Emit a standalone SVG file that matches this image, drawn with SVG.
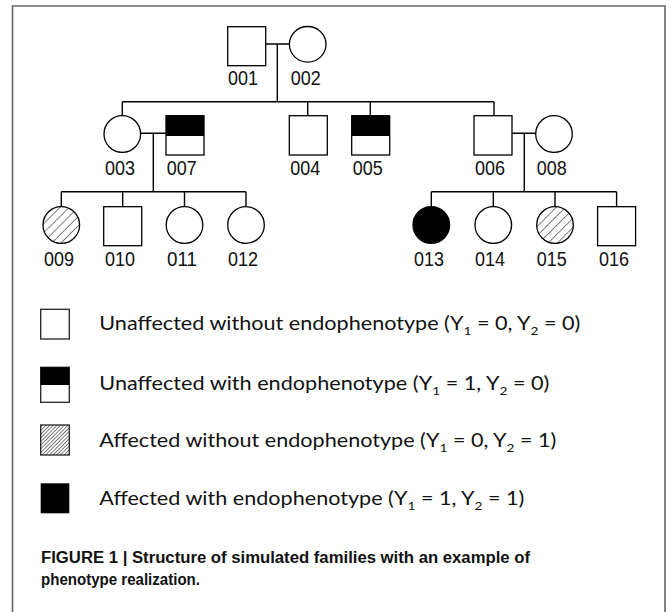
<svg xmlns="http://www.w3.org/2000/svg" width="671" height="612" viewBox="0 0 671 612">
<style>
.ln{stroke:#000;stroke-width:1.4;fill:none}
.sh{stroke:#000;stroke-width:1.3;fill:#fff}
.lab{font-family:"Liberation Sans",Arial,sans-serif;font-size:20px;fill:#111}
.leg{font-family:Lato,"Open Sans",sans-serif;font-size:19px;fill:#111}
.sub{font-size:12px}
.cap{font-family:"Liberation Sans",Arial,sans-serif;font-size:16px;font-weight:bold;fill:#111}
.lb{stroke:#222;stroke-width:1.3;fill:#fff}
</style>
<defs>
<pattern id="hatch" width="6.5" height="6.5" patternUnits="userSpaceOnUse" patternTransform="rotate(45)">
<rect width="6.5" height="6.5" fill="#fff"/>
<line x1="0" y1="0" x2="0" y2="6.5" stroke="#000" stroke-width="1"/>
</pattern>
<pattern id="hatch2" width="2.6" height="2.6" patternUnits="userSpaceOnUse" patternTransform="rotate(45)">
<rect width="2.6" height="2.6" fill="#fff"/>
<line x1="0" y1="0" x2="0" y2="2.6" stroke="#000" stroke-width="1"/>
</pattern>
</defs>
<rect width="671" height="612" fill="#fff"/>
<path d="M12.5,612 V6 H665 V612" fill="none" stroke="#666" stroke-width="1.6"/>

<g id="connectors">
<path class="ln" d="M265.7,44 H289.4 M277.3,44 V101.7 M122.3,101.7 H494 M122.3,101.7 V115.7 M307.7,101.7 V115.7 M370.3,101.7 V115.7 M494,101.7 V115.7"/>
<path class="ln" d="M140.6,133.3 H166 M153.3,133.3 V191.7 M61.3,191.7 H246 M61.3,191.7 V206.7 M122.7,191.7 V206.7 M184.5,191.7 V206.7 M246,191.7 V206.7"/>
<path class="ln" d="M512,133.3 H535.7 M524.3,133.3 V191.7 M431.3,191.7 H616.6 M431.3,191.7 V206.7 M493.3,191.7 V206.7 M555,191.7 V206.7 M616.6,191.7 V206.7"/>
</g>

<g id="n001"><rect class="sh" x="227.7" y="26.7" width="38" height="39"/><text class="lab" x="228" y="85" textLength="30" lengthAdjust="spacingAndGlyphs">001</text></g>
<g id="n002"><ellipse class="sh" cx="307.7" cy="44.3" rx="18.3" ry="17.8"/><text class="lab" x="290.7" y="85" textLength="30" lengthAdjust="spacingAndGlyphs">002</text></g>

<g id="n003"><ellipse class="sh" cx="122.3" cy="134" rx="18.3" ry="18.3"/><text class="lab" x="105" y="175" textLength="30" lengthAdjust="spacingAndGlyphs">003</text></g>
<g id="n007"><rect class="sh" x="166" y="115.7" width="38" height="39.3"/><rect x="166" y="115.7" width="38" height="20.3" fill="#000"/><text class="lab" x="166.7" y="175" textLength="30" lengthAdjust="spacingAndGlyphs">007</text></g>
<g id="n004"><rect class="sh" x="289.3" y="115.7" width="38" height="39.3"/><text class="lab" x="290.3" y="175" textLength="30" lengthAdjust="spacingAndGlyphs">004</text></g>
<g id="n005"><rect class="sh" x="351.7" y="115.7" width="38" height="39.3"/><rect x="351.7" y="115.7" width="38" height="20.3" fill="#000"/><text class="lab" x="352.7" y="175" textLength="30" lengthAdjust="spacingAndGlyphs">005</text></g>
<g id="n006"><rect class="sh" x="474" y="115.7" width="38" height="39.3"/><text class="lab" x="475" y="175" textLength="30" lengthAdjust="spacingAndGlyphs">006</text></g>
<g id="n008"><ellipse class="sh" cx="554" cy="134" rx="18.3" ry="18.3"/><text class="lab" x="536.7" y="175" textLength="30" lengthAdjust="spacingAndGlyphs">008</text></g>

<g id="n009"><ellipse class="sh" cx="61.3" cy="225" rx="18.3" ry="18.3" style="fill:url(#hatch)"/><text class="lab" x="44" y="266" textLength="30" lengthAdjust="spacingAndGlyphs">009</text></g>
<g id="n010"><rect class="sh" x="103.7" y="206.7" width="38" height="39"/><text class="lab" x="105" y="266" textLength="30" lengthAdjust="spacingAndGlyphs">010</text></g>
<g id="n011"><ellipse class="sh" cx="184.5" cy="225" rx="18.3" ry="18.3"/><text class="lab" x="167" y="266" textLength="30" lengthAdjust="spacingAndGlyphs">011</text></g>
<g id="n012"><ellipse class="sh" cx="246" cy="225" rx="18.3" ry="18.3"/><text class="lab" x="228" y="266" textLength="30" lengthAdjust="spacingAndGlyphs">012</text></g>
<g id="n013"><ellipse class="sh" cx="431.3" cy="225" rx="18.3" ry="18.3" style="fill:#000"/><text class="lab" x="414" y="266" textLength="30" lengthAdjust="spacingAndGlyphs">013</text></g>
<g id="n014"><ellipse class="sh" cx="493.3" cy="225" rx="18.3" ry="18.3"/><text class="lab" x="475" y="266" textLength="30" lengthAdjust="spacingAndGlyphs">014</text></g>
<g id="n015"><ellipse class="sh" cx="555" cy="225" rx="18.3" ry="18.3" style="fill:url(#hatch)"/><text class="lab" x="536.7" y="266" textLength="30" lengthAdjust="spacingAndGlyphs">015</text></g>
<g id="n016"><rect class="sh" x="597.6" y="206.7" width="38" height="39"/><text class="lab" x="599" y="266" textLength="30" lengthAdjust="spacingAndGlyphs">016</text></g>

<g id="legend1"><rect class="lb" x="40.7" y="309.3" width="28.6" height="29.7"/>
<text class="leg" x="99.3" y="330" textLength="481" lengthAdjust="spacingAndGlyphs">Unaffected without endophenotype (Y<tspan class="sub" dy="5">1</tspan><tspan dy="-5"> = 0, Y</tspan><tspan class="sub" dy="5">2</tspan><tspan dy="-5"> = 0)</tspan></text></g>
<g id="legend2"><rect class="lb" x="40.7" y="367.3" width="28.6" height="35"/><rect x="40.7" y="367.3" width="28.6" height="17.7" fill="#000"/>
<text class="leg" x="99.3" y="390" textLength="450" lengthAdjust="spacingAndGlyphs">Unaffected with endophenotype (Y<tspan class="sub" dy="5">1</tspan><tspan dy="-5"> = 1, Y</tspan><tspan class="sub" dy="5">2</tspan><tspan dy="-5"> = 0)</tspan></text></g>
<g id="legend3"><rect class="lb" x="40.7" y="425" width="28.6" height="30" style="fill:url(#hatch2)"/>
<text class="leg" x="99.3" y="447" textLength="457" lengthAdjust="spacingAndGlyphs">Affected without endophenotype (Y<tspan class="sub" dy="5">1</tspan><tspan dy="-5"> = 0, Y</tspan><tspan class="sub" dy="5">2</tspan><tspan dy="-5"> = 1)</tspan></text></g>
<g id="legend4"><rect x="40.7" y="483.3" width="28.6" height="30" fill="#000"/>
<text class="leg" x="99.3" y="505" textLength="425" lengthAdjust="spacingAndGlyphs">Affected with endophenotype (Y<tspan class="sub" dy="5">1</tspan><tspan dy="-5"> = 1, Y</tspan><tspan class="sub" dy="5">2</tspan><tspan dy="-5"> = 1)</tspan></text></g>

<g id="caption">
<text class="cap" x="41" y="563" textLength="489" lengthAdjust="spacingAndGlyphs">FIGURE 1 | Structure of simulated families with an example of</text>
<text class="cap" x="41" y="585" textLength="159" lengthAdjust="spacingAndGlyphs">phenotype realization.</text>
</g>
</svg>
